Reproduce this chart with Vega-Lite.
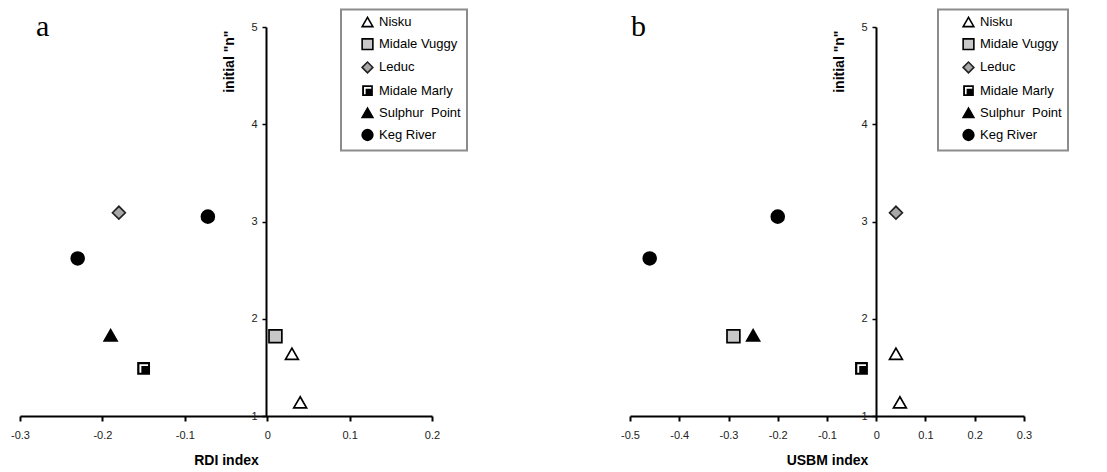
{
  "$schema": "https://vega.github.io/schema/vega-lite/v6.json",
  "background": "white",
  "padding": {"left": 10, "top": 8, "right": 0, "bottom": 0},
  "bounds": "flush",
  "spacing": 198,
  "config": {
    "view": {"stroke": null},
    "font": "Liberation Sans",
    "axis": {
      "grid": false,
      "domainColor": "black",
      "domainWidth": 2,
      "tickColor": "black",
      "tickWidth": 2,
      "tickSize": 5,
      "labelFont": "Liberation Sans",
      "labelFontSize": 11,
      "labelColor": "#222222",
      "labelPadding": 8,
      "titleFont": "Liberation Sans",
      "titleFontSize": 14,
      "titleFontWeight": "bold",
      "titleColor": "black"
    },
    "legend": {
      "strokeWidth": 2,
      "strokeColor": "#8c8c8c",
      "fillColor": "white",
      "padding": 6,
      "symbolOffset": 14,
      "labelOffset": 5,
      "rowPadding": 4.2,
      "labelFontSize": 13,
      "labelColor": "black",
      "labelFont": "Liberation Sans",
      "labelLimit": 300,
      "symbolSize": 115,
      "symbolStrokeWidth": 1.6
    }
  },
  "datasets": {
    "a": [
      {"formation": "Nisku", "index": 0.03, "n": 1.64},
      {"formation": "Nisku", "index": 0.04, "n": 1.14},
      {"formation": "Midale Vuggy", "index": 0.01, "n": 1.82},
      {"formation": "Leduc", "index": -0.18, "n": 3.09},
      {"formation": "Midale Marly", "index": -0.15, "n": 1.49},
      {"formation": "Sulphur Point", "index": -0.19, "n": 1.83},
      {"formation": "Keg River", "index": -0.072, "n": 3.05},
      {"formation": "Keg River", "index": -0.23, "n": 2.62}
    ],
    "b": [
      {"formation": "Nisku", "index": 0.04, "n": 1.64},
      {"formation": "Nisku", "index": 0.048, "n": 1.14},
      {"formation": "Midale Vuggy", "index": -0.29, "n": 1.82},
      {"formation": "Leduc", "index": 0.04, "n": 3.09},
      {"formation": "Midale Marly", "index": -0.03, "n": 1.49},
      {"formation": "Sulphur Point", "index": -0.25, "n": 1.83},
      {"formation": "Keg River", "index": -0.2, "n": 3.05},
      {"formation": "Keg River", "index": -0.46, "n": 2.62}
    ]
  },
  "resolve": {
    "scale": {"x": "independent", "y": "independent", "shape": "independent", "fill": "independent", "stroke": "independent"},
    "legend": {"shape": "independent", "fill": "independent", "stroke": "independent"}
  },
  "hconcat": [
    {
      "width": 412,
      "height": 389,
      "data": {"name": "a"},
      "title": {"text": "a", "anchor": "start", "frame": "group", "font": "Liberation Serif", "fontSize": 30, "fontWeight": "normal", "baseline": "alphabetic", "offset": 0, "dx": 16, "dy": 57, "color": "black"},
      "mark": {"type": "point", "filled": true, "opacity": 1, "size": 165, "strokeWidth": 1.7},
      "encoding": {
        "x": {"field": "index", "type": "quantitative", "scale": {"domain": [-0.3, 0.2], "nice": false, "zero": false},
          "axis": {"title": "RDI index", "values": [-0.3, -0.2, -0.1, 0, 0.1, 0.2], "labelExpr": "'' + datum.value", "labelFlush": false, "titlePadding": 13}},
        "y": {"field": "n", "type": "quantitative", "scale": {"domain": [1, 5], "nice": false, "zero": false},
          "axis": {"title": "initial \"n\"", "values": [1, 2, 3, 4, 5], "offset": -246, "tickSize": 4, "tickWidth": 1.5, "labelPadding": 5, "titleX": -37, "titleY": 3, "titleAlign": "right", "titleAngle": 270, "titleBaseline": "middle"}},
        "shape": {"field": "formation", "type": "nominal",
          "scale": {"domain": ["Nisku", "Midale Vuggy", "Leduc", "Midale Marly", "Sulphur Point", "Keg River"],
            "range": ["triangle-up", "square", "diamond", "M-1,-1H1V1H-1Z M-0.65,-0.65V0.7H-0.35V-0.35H0.7V-0.65Z", "triangle-up", "circle"]},
          "legend": {"title": null, "orient": "none", "legendX": 321, "legendY": -17.5, "direction": "vertical", "symbolOffset": 14, "labelExpr": "replace(datum.label, ' Point', '\u00a0\u00a0Point')"}},
        "fill": {"field": "formation", "type": "nominal",
          "scale": {"domain": ["Nisku", "Midale Vuggy", "Leduc", "Midale Marly", "Sulphur Point", "Keg River"],
            "range": ["white", "#c8c8c8", "#a8a8a8", "black", "black", "black"]},
          "legend": {"title": null, "orient": "none", "legendX": 321, "legendY": -17.5, "direction": "vertical", "symbolOffset": 14, "labelExpr": "replace(datum.label, ' Point', '\u00a0\u00a0Point')"}},
        "stroke": {"field": "formation", "type": "nominal",
          "scale": {"domain": ["Nisku", "Midale Vuggy", "Leduc", "Midale Marly", "Sulphur Point", "Keg River"],
            "range": ["black", "black", "#222222", "transparent", "black", "black"]},
          "legend": {"title": null, "orient": "none", "legendX": 321, "legendY": -17.5, "direction": "vertical", "symbolOffset": 14, "labelExpr": "replace(datum.label, ' Point', '\u00a0\u00a0Point')"}}
      }
    },
    {
      "width": 394,
      "height": 389,
      "data": {"name": "b"},
      "title": {"text": "b", "anchor": "start", "frame": "group", "font": "Liberation Serif", "fontSize": 30, "fontWeight": "normal", "baseline": "alphabetic", "offset": 0, "dx": 1, "dy": 57, "color": "black"},
      "mark": {"type": "point", "filled": true, "opacity": 1, "size": 165, "strokeWidth": 1.7},
      "encoding": {
        "x": {"field": "index", "type": "quantitative", "scale": {"domain": [-0.5, 0.3], "nice": false, "zero": false},
          "axis": {"title": "USBM index", "values": [-0.5, -0.4, -0.3, -0.2, -0.1, 0, 0.1, 0.2, 0.3], "labelExpr": "'' + datum.value", "labelFlush": false, "titlePadding": 13}},
        "y": {"field": "n", "type": "quantitative", "scale": {"domain": [1, 5], "nice": false, "zero": false},
          "axis": {"title": "initial \"n\"", "values": [1, 2, 3, 4, 5], "offset": -246, "tickSize": 4, "tickWidth": 1.5, "labelPadding": 5, "titleX": -37, "titleY": 3, "titleAlign": "right", "titleAngle": 270, "titleBaseline": "middle"}},
        "shape": {"field": "formation", "type": "nominal",
          "scale": {"domain": ["Nisku", "Midale Vuggy", "Leduc", "Midale Marly", "Sulphur Point", "Keg River"],
            "range": ["triangle-up", "square", "diamond", "M-1,-1H1V1H-1Z M-0.65,-0.65V0.7H-0.35V-0.35H0.7V-0.65Z", "triangle-up", "circle"]},
          "legend": {"title": null, "orient": "none", "legendX": 308, "legendY": -17.5, "direction": "vertical", "symbolOffset": 18, "labelExpr": "replace(datum.label, ' Point', '\u00a0\u00a0Point')"}},
        "fill": {"field": "formation", "type": "nominal",
          "scale": {"domain": ["Nisku", "Midale Vuggy", "Leduc", "Midale Marly", "Sulphur Point", "Keg River"],
            "range": ["white", "#c8c8c8", "#a8a8a8", "black", "black", "black"]},
          "legend": {"title": null, "orient": "none", "legendX": 308, "legendY": -17.5, "direction": "vertical", "symbolOffset": 18, "labelExpr": "replace(datum.label, ' Point', '\u00a0\u00a0Point')"}},
        "stroke": {"field": "formation", "type": "nominal",
          "scale": {"domain": ["Nisku", "Midale Vuggy", "Leduc", "Midale Marly", "Sulphur Point", "Keg River"],
            "range": ["black", "black", "#222222", "transparent", "black", "black"]},
          "legend": {"title": null, "orient": "none", "legendX": 308, "legendY": -17.5, "direction": "vertical", "symbolOffset": 18, "labelExpr": "replace(datum.label, ' Point', '\u00a0\u00a0Point')"}}
      }
    }
  ]
}
